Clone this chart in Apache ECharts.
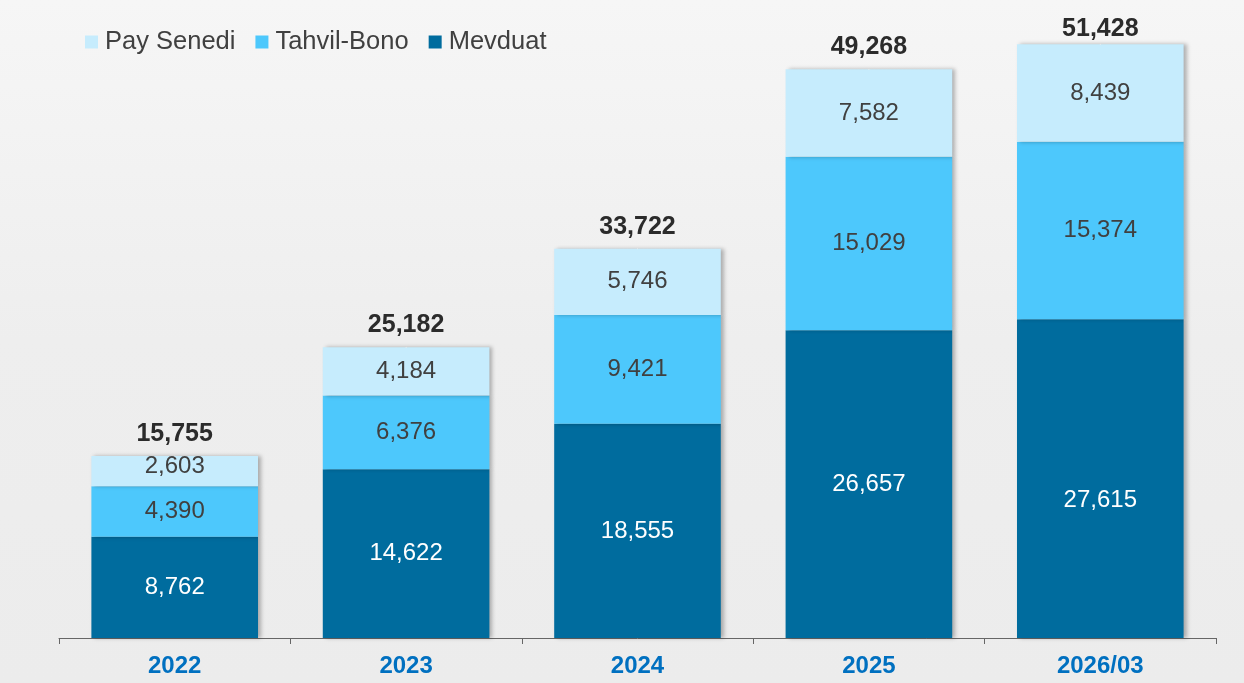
<!DOCTYPE html>
<html>
<head>
<meta charset="utf-8">
<script src="https://cdn.jsdelivr.net/npm/echarts@6/dist/echarts.min.js"></script>
<style>
html,body{margin:0;padding:0;width:1244px;height:683px;overflow:hidden;}
#c{width:1244px;height:683px;}
</style>
</head>
<body>
<div id="c"></div>
<script>
const categories = ['2022', '2023', '2024', '2025', '2026/03'];
const mevduat = [8762, 14622, 18555, 26657, 27615];
const tahvilBono = [4390, 6376, 9421, 15029, 15374];
const paySenedi = [2603, 4184, 5746, 7582, 8439];
const totals = categories.map((c, i) => mevduat[i] + tahvilBono[i] + paySenedi[i]);

const fmt = v => Number(v).toLocaleString('en-US');
const FONT = '"Liberation Sans", Arial, sans-serif';
const shadow = {shadowColor: 'rgba(0,0,0,0.28)', shadowBlur: 4, shadowOffsetX: 3, shadowOffsetY: 0};

// label placement tweaks (styling only, values come from the arrays above)
const withLabelOffset = (arr, idx, offset) => arr.map((v, i) => i === idx ? {value: v, label: {offset: offset}} : v);
const mevduatData = withLabelOffset(mevduat, 4, [0, 22]);
const payData = withLabelOffset(paySenedi, 0, [0, -5]);
const totalData = totals.map((v, i) => i === totals.length - 1 ? {value: v, label: {distance: 2}} : v);

const chart = echarts.init(document.getElementById('c'), null, {renderer: 'canvas'});
chart.setOption({
  animation: false,
  backgroundColor: {
    type: 'linear', x: 0, y: 0, x2: 0, y2: 1,
    colorStops: [{offset: 0, color: '#f6f6f6'}, {offset: 0.5, color: '#eeeeee'}, {offset: 1, color: '#ececec'}]
  },
  textStyle: {fontFamily: FONT},
  legend: {
    left: 80, top: 24,
    itemWidth: 13, itemHeight: 13, itemGap: 20,
    icon: 'rect',
    data: ['Pay Senedi', 'Tahvil-Bono', 'Mevduat'],
    textStyle: {fontSize: 25.5, color: '#404040', fontFamily: FONT, padding: [0, 0, 0, 2]}
  },
  grid: {left: 59, right: 28, top: 3, bottom: 45},
  xAxis: {
    type: 'category',
    data: categories,
    axisLine: {lineStyle: {color: '#666666', width: 1}},
    axisTick: {show: true, length: 6, lineStyle: {color: '#666666'}},
    axisLabel: {fontSize: 24, fontWeight: 'bold', color: '#0070C0', margin: 16, fontFamily: FONT}
  },
  yAxis: {type: 'value', min: 0, max: 55000, show: false, splitLine: {show: false}},
  series: [
    {
      name: 'Mevduat', type: 'bar', stack: 'total', data: mevduatData, barCategoryGap: '28%',
      itemStyle: Object.assign({color: '#006C9E'}, shadow),
      label: {show: true, position: 'inside', fontSize: 24, color: '#ffffff', fontFamily: FONT, formatter: p => fmt(p.value)}
    },
    {
      name: 'Tahvil-Bono', type: 'bar', stack: 'total', data: tahvilBono,
      itemStyle: Object.assign({color: '#4DC8FC'}, shadow),
      label: {show: true, position: 'inside', fontSize: 24, color: '#404040', fontFamily: FONT, formatter: p => fmt(p.value)}
    },
    {
      name: 'Pay Senedi', type: 'bar', stack: 'total', data: payData,
      itemStyle: Object.assign({color: '#C6ECFD'}, shadow),
      label: {show: true, position: 'inside', fontSize: 24, color: '#404040', fontFamily: FONT, formatter: p => fmt(p.value)}
    },
    {
      name: 'Toplam', type: 'scatter', data: totalData, symbolSize: 1,
      itemStyle: {color: '#f0f0f0', opacity: 1},
      label: {show: true, position: 'top', distance: 9, fontSize: 25, fontWeight: 'bold', color: '#2b2b2b', opacity: 1, fontFamily: FONT, formatter: p => fmt(p.value)},
      emphasis: {disabled: true},
      silent: true
    }
  ]
});
</script>
</body>
</html>
